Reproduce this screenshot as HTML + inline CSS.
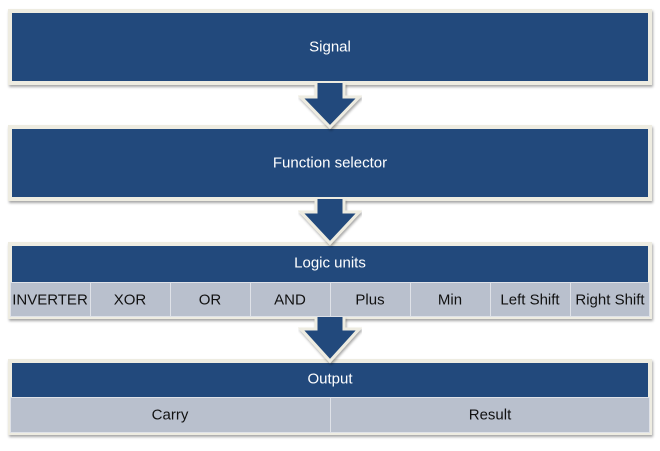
<!DOCTYPE html>
<html><head><style>
body{margin:0;background:#fff;}
svg text{font-family:"Liberation Sans",sans-serif;font-size:15px;text-anchor:middle;dominant-baseline:central;}
</style></head><body>
<svg width="660" height="446" xmlns="http://www.w3.org/2000/svg">
<defs><filter id="s" x="-5%" y="-10%" width="110%" height="130%"><feDropShadow dx="1" dy="2" stdDeviation="1.2" flood-color="#000" flood-opacity="0.35"/></filter></defs>
<g filter="url(#s)" stroke="#eeece1" stroke-width="4">
<rect x="10" y="11" width="640" height="72" fill="#214a7c"/>
<rect x="10" y="127" width="640" height="72" fill="#214a7c"/>
<rect x="10" y="244" width="640" height="73" fill="#214a7c"/>
<rect x="10" y="361" width="640" height="72" fill="#214a7c"/>
</g>
<g fill="#b9c0cd" stroke="#dfe2e8" stroke-width="1">
<rect x="10.5" y="282.5" width="80" height="34"/><rect x="90.5" y="282.5" width="80" height="34"/>
<rect x="170.5" y="282.5" width="80" height="34"/><rect x="250.5" y="282.5" width="80" height="34"/>
<rect x="330.5" y="282.5" width="80" height="34"/><rect x="410.5" y="282.5" width="80" height="34"/>
<rect x="490.5" y="282.5" width="80" height="34"/><rect x="570.5" y="282.5" width="79" height="34"/>
<rect x="10.5" y="397.5" width="320" height="35"/><rect x="330.5" y="397.5" width="319" height="35"/>
</g>
<g fill="#214a7c" stroke="#eeece1" stroke-width="3" filter="url(#s)">
<path d="M316 83 V97 H301 L330 127 L359 97 H344 V83"/>
<path d="M316 199 V212 H301 L330 243 L359 212 H344 V199"/>
<path d="M316 317 V329 H301 L330 361 L359 329 H344 V317"/>
</g>
<g fill="#fff">
<text x="330" y="47">Signal</text>
<text x="330" y="163">Function selector</text>
<text x="330" y="263">Logic units</text>
<text x="330" y="379">Output</text>
</g>
<g fill="#111" style="font-size:13px">
<text x="50" y="300">INVERTER</text><text x="130" y="300">XOR</text><text x="210" y="300">OR</text><text x="290" y="300">AND</text>
<text x="370" y="300">Plus</text><text x="450" y="300">Min</text><text x="530" y="300">Left Shift</text><text x="610" y="300">Right Shift</text>
<text x="170" y="415">Carry</text><text x="490" y="415">Result</text>
</g>
</svg>
</body></html>
